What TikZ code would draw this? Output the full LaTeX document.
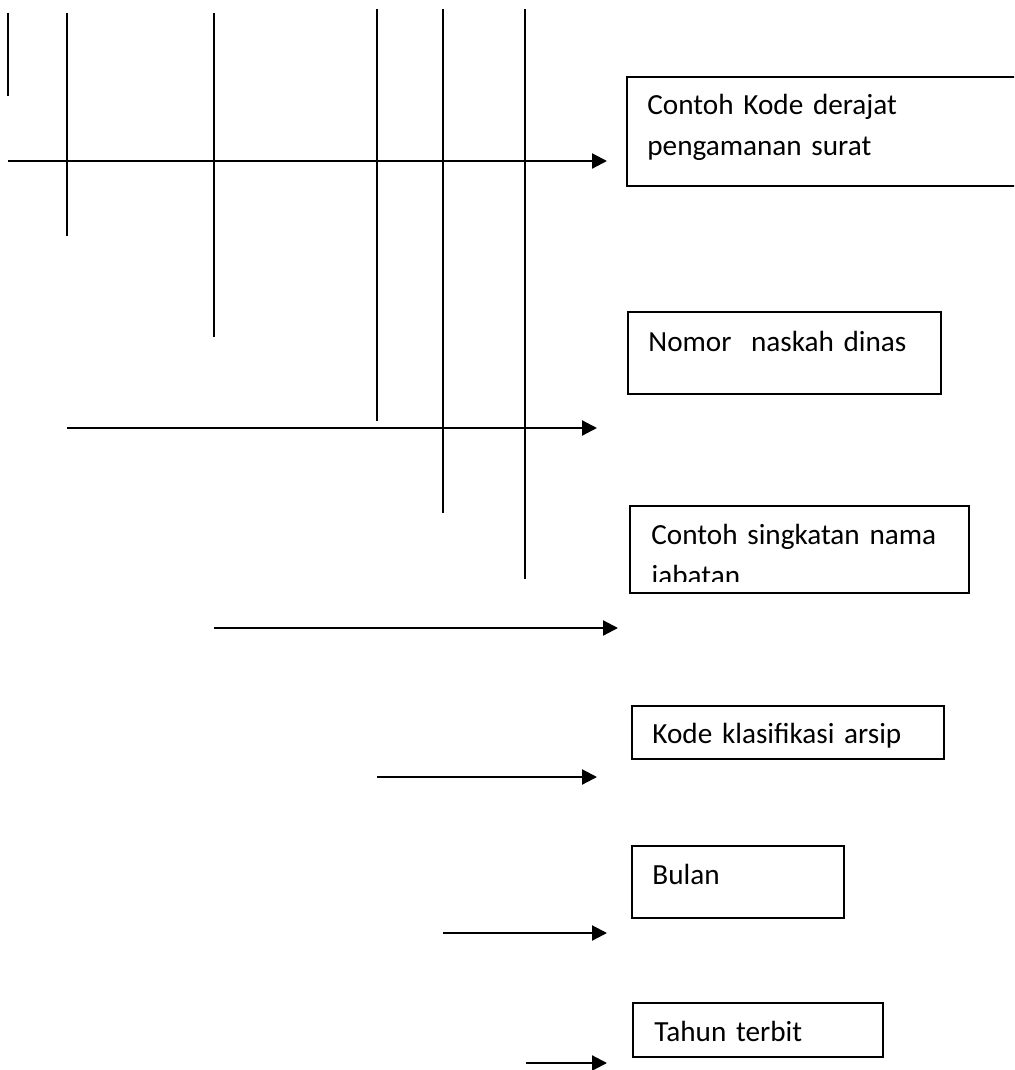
\documentclass[tikz,border=0pt]{standalone}
\usepackage{fontspec}
\setmainfont{Carlito}
\usetikzlibrary{arrows.meta,positioning}

\begin{document}
\begin{tikzpicture}[x=0.5pt,y=-0.5pt,
    vline/.style={line width=0.8pt},
    arr/.style={line width=1.1pt,-{Triangle[length=7.5pt,width=7.5pt]}},
    box/.style={draw,line width=0.8pt,anchor=north west,inner sep=0pt},
    txt/.style={anchor=base west,inner sep=0pt,text width=200pt,align=left,
        font=\fontsize{14.6}{20.5}\selectfont}]
    \useasboundingbox (0,0) rectangle (1014,1070);
    \clip (0,0) rectangle (1014,1070);

    % ends of the vertical strokes
    \coordinate (v1t) at (8,13);    \coordinate (v1b) at (8,96);
    \coordinate (v2t) at (67,13);   \coordinate (v2b) at (67,236);
    \coordinate (v3t) at (214,13);  \coordinate (v3b) at (214,337);
    \coordinate (v4t) at (377,9);   \coordinate (v4b) at (377,421);
    \coordinate (v5t) at (443,9);   \coordinate (v5b) at (443,513);
    \coordinate (v6t) at (525,9);   \coordinate (v6b) at (525,579);

    \draw[vline] (v1t) -- (v1b);
    \draw[vline] (v2t) -- (v2b);
    \draw[vline] (v3t) -- (v3b);
    \draw[vline] (v4t) -- (v4b);
    \draw[vline] (v5t) -- (v5b);
    \draw[vline] (v6t) -- (v6b);

    % boxes on the right
    \node[box,minimum width=207pt,minimum height=54.5pt] (bDerajat) at (626,76) {};
    \node[box,minimum width=156.5pt,minimum height=41pt] (bNomor) at (627,311) {};
    \node[box,minimum width=169.5pt,minimum height=43.5pt] (bJabatan) at (629,505) {};
    \node[box,minimum width=156pt,minimum height=26.5pt] (bKlasifikasi) at (631,705) {};
    \node[box,minimum width=106pt,minimum height=36pt] (bBulan) at (631,845) {};
    \node[box,minimum width=125pt,minimum height=27pt] (bTahun) at (632,1002) {};

    \node[txt] (tDerajat) at ([shift={(21,39)}]bDerajat.north west) {Contoh Kode derajat\\pengamanan surat};
    \node[txt] (tNomor) at ([shift={(21,40)}]bNomor.north west) {Nomor\ \ naskah dinas};
    \begin{scope}
        \clip (629,505) rectangle (968,581);
        \node[txt] (tJabatan) at ([shift={(22,39)}]bJabatan.north west) {Contoh singkatan nama\\jabatan};
    \end{scope}
    \node[txt] (tKlasifikasi) at ([shift={(21,38)}]bKlasifikasi.north west) {Kode klasifikasi arsip};
    \node[txt] (tBulan) at ([shift={(21,39)}]bBulan.north west) {Bulan};
    \node[txt] (tTahun) at ([shift={(22,39)}]bTahun.north west) {Tahun terbit};

    % arrows
    \coordinate (a1s) at (8,161);    \coordinate (a1e) at (607,161);
    \coordinate (a2s) at (67,428);   \coordinate (a2e) at (597,428);
    \coordinate (a3s) at (214,628);  \coordinate (a3e) at (618,628);
    \coordinate (a4s) at (377,777);  \coordinate (a4e) at (597,777);
    \coordinate (a5s) at (443,933);  \coordinate (a5e) at (607,933);
    \coordinate (a6s) at (526,1063); \coordinate (a6e) at (607,1063);

    \draw[arr] (a1s) -- (a1e);
    \draw[arr] (a2s) -- (a2e);
    \draw[arr] (a3s) -- (a3e);
    \draw[arr] (a4s) -- (a4e);
    \draw[arr] (a5s) -- (a5e);
    \draw[arr] (a6s) -- (a6e);

\end{tikzpicture}
\end{document}
